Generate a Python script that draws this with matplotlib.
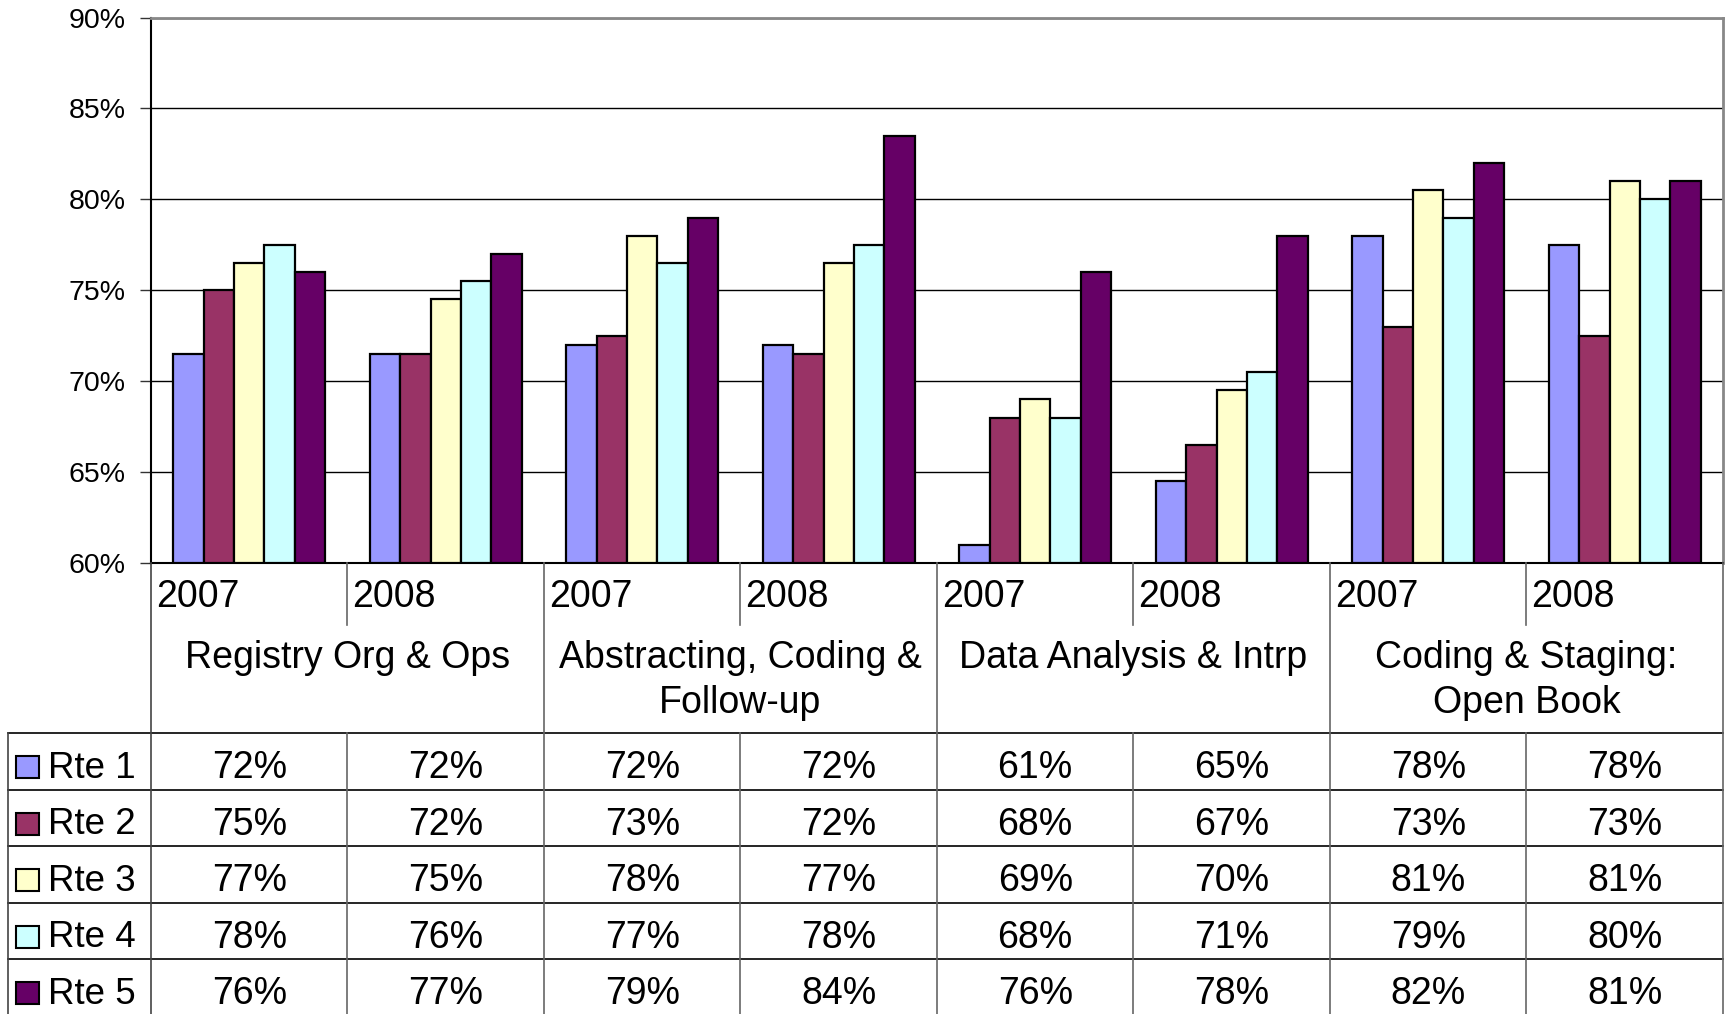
#!/usr/bin/env python3
"""Bar chart with Excel-style data table: Rte 1-5 by topic and year."""

import matplotlib
matplotlib.use("Agg")
import matplotlib.pyplot as plt
from matplotlib.patches import Rectangle

plt.rcParams["font.family"] = ["Liberation Sans", "DejaVu Sans"]

W, H = 1727, 1014

categories = ["Registry Org & Ops", "Abstracting, Coding &\nFollow-up",
              "Data Analysis & Intrp", "Coding & Staging:\nOpen Book"]
years = ["2007", "2008"]
series = ["Rte 1", "Rte 2", "Rte 3", "Rte 4", "Rte 5"]
colors = ["#9999FF", "#993366", "#FFFFCC", "#CCFFFF", "#660066"]

rte1 = [71.5, 71.5, 72.0, 72.0, 61.0, 64.5, 78.0, 77.5]
rte2 = [75.0, 71.5, 72.5, 71.5, 68.0, 66.5, 73.0, 72.5]
rte3 = [76.5, 74.5, 78.0, 76.5, 69.0, 69.5, 80.5, 81.0]
rte4 = [77.5, 75.5, 76.5, 77.5, 68.0, 70.5, 79.0, 80.0]
rte5 = [76.0, 77.0, 79.0, 83.5, 76.0, 78.0, 82.0, 81.0]
values = [rte1, rte2, rte3, rte4, rte5]

# layout in pixels
PL, PR, PT, PB = 151, 1723, 17.5, 563
LEG_L = 8
YEAR_B = 625
CAT_B = 733
ROW_H = 56.5
FS = 27

fig = plt.figure(figsize=(W / 100, H / 100), dpi=100)
ax = fig.add_axes([PL / W, 1 - PB / H, (PR - PL) / W, (PB - PT) / H])

n = len(rte1)
bw = 0.155
for k, (vals, c) in enumerate(zip(values, colors)):
    xs = [i + 0.5 + (k - 2) * bw for i in range(n)]
    ax.bar(xs, [v - 60 for v in vals], bottom=60, width=bw, color=c,
           edgecolor="black", linewidth=1.6, zorder=3)

ax.set_xlim(0, n)
ax.set_ylim(60, 90)
ax.set_yticks(range(60, 91, 5))
ax.set_yticklabels([f"{t}%" for t in range(60, 91, 5)], fontsize=20.5)
ax.tick_params(axis="y", length=8, width=1, pad=10, color="#333333")
ax.set_xticks([])
ax.yaxis.grid(True, color="black", linewidth=1)
ax.set_axisbelow(True)
ax.spines["left"].set_color("black")
ax.spines["left"].set_linewidth(1.5)
ax.spines["bottom"].set_color("black")
ax.spines["bottom"].set_linewidth(1.5)
ax.spines["top"].set_color("#888888")
ax.spines["top"].set_linewidth(2)
ax.spines["right"].set_color("#888888")
ax.spines["right"].set_linewidth(2)

# data table drawn in pixel coordinates
tb = fig.add_axes([0, 0, 1, 1])
tb.set_xlim(0, W)
tb.set_ylim(H, 0)
tb.axis("off")

col_w = (PR - PL) / n
grid_bottom = CAT_B + ROW_H * 5

# horizontal lines
tb.plot([LEG_L, PR], [CAT_B, CAT_B], color="black", lw=1.2)
for r in range(1, 6):
    y = CAT_B + ROW_H * r
    tb.plot([LEG_L, PR], [y, y], color="black", lw=1.2)

# vertical lines
tb.plot([LEG_L, LEG_L], [CAT_B, grid_bottom], color="#444444", lw=1.2)
tb.plot([PL, PL], [PB, grid_bottom], color="#444444", lw=1.2)
for i in range(1, n + 1):
    x = PL + col_w * i
    if i % 2 == 0:
        tb.plot([x, x], [PB, grid_bottom], color="#666666", lw=1.2)
    else:
        tb.plot([x, x], [PB, YEAR_B], color="#666666", lw=1.2)
        tb.plot([x, x], [CAT_B, grid_bottom], color="#666666", lw=1.2)

# year labels
for i in range(n):
    tb.text(PL + col_w * i + 5, 597, years[i % 2], fontsize=FS,
            ha="left", va="center")

# category labels
for g, cat in enumerate(categories):
    cx = PL + col_w * (2 * g + 1)
    tb.text(cx, 640, cat, fontsize=FS, ha="center", va="top",
            linespacing=1.32)

# rows: legend key, name and rounded values
for k, (name, vals, c) in enumerate(zip(series, values, colors)):
    cy = CAT_B + ROW_H * k + ROW_H / 2 + 7
    tb.add_patch(Rectangle((16, cy - 12), 23, 22, facecolor=c,
                           edgecolor="black", lw=1.5))
    tb.text(48, cy, name, fontsize=FS - 0.5, ha="left", va="center")
    for i, v in enumerate(vals):
        tb.text(PL + col_w * (i + 0.5), cy, f"{int(v + 0.5)}%", fontsize=FS,
                ha="center", va="center")

fig.savefig("out.png", dpi=100)
plt.close(fig)
